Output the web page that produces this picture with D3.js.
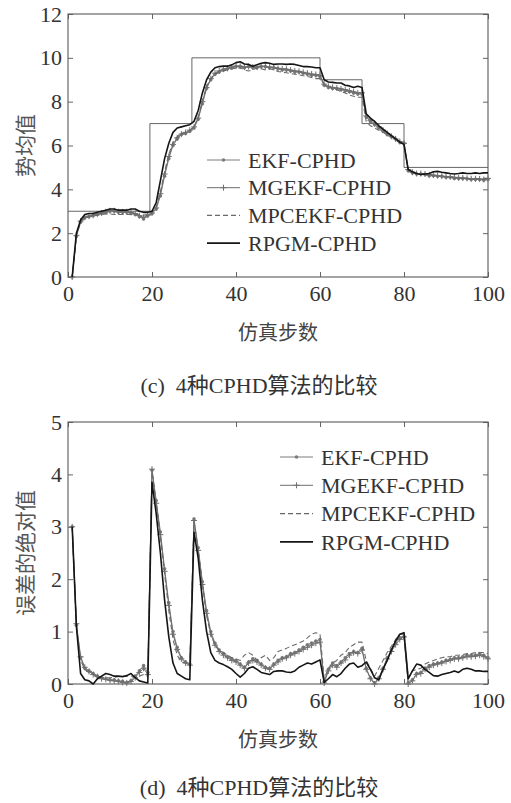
<!DOCTYPE html>
<html>
<head>
<meta charset="utf-8">
<script src="https://cdn.jsdelivr.net/npm/d3@7"></script>
<style>
  body { margin: 0; background: #fff; }
  svg { display: block; }
</style>
</head>
<body>
<div id="chart"></div>
<script>
// simulation step axis
const steps = d3.range(1, 101);

// true cardinality (step breakpoints)
const truthX = [0, 19.5, 19.5, 29.5, 29.5, 60, 60, 70, 70, 80, 80, 100];
const truthY = [3, 3, 7, 7, 10, 10, 9, 9, 7, 7, 5, 5];

const seriesNames = ['EKF-CPHD', 'MGEKF-CPHD', 'MPCEKF-CPHD', 'RPGM-CPHD'];

// (c) mean cardinality estimates
const meanEKF = [
  0, 1.85, 2.5, 2.7, 2.75, 2.8, 2.85, 2.9, 2.95, 3.0,
  3.0, 2.95, 2.95, 2.95, 2.9, 2.85, 2.75, 2.65, 2.8, 2.9,
  3.1, 3.7, 4.6, 5.4, 6.0, 6.3, 6.5, 6.55, 6.65, 6.8,
  7.2, 7.9, 8.6, 9.0, 9.25, 9.35, 9.45, 9.5, 9.55, 9.6,
  9.6, 9.55, 9.6, 9.55, 9.55, 9.6, 9.6, 9.55, 9.55, 9.5,
  9.45, 9.45, 9.4, 9.35, 9.35, 9.3, 9.25, 9.2, 9.2, 9.15,
  8.75, 8.65, 8.6, 8.6, 8.55, 8.5, 8.45, 8.4, 8.35, 8.35,
  7.3, 7.1, 6.95, 6.8, 6.65, 6.5, 6.4, 6.3, 6.15, 6.1,
  4.85, 4.75, 4.7, 4.7, 4.68, 4.62, 4.62, 4.6, 4.6, 4.55,
  4.55, 4.5, 4.5, 4.5, 4.48, 4.45, 4.45, 4.45, 4.42, 4.45
];
const meanMGEKF = [
  0, 1.9, 2.55, 2.72, 2.78, 2.82, 2.88, 2.92, 2.98, 3.02,
  3.02, 2.98, 2.97, 2.98, 2.95, 2.9, 2.8, 2.72, 2.82, 2.92,
  3.15, 3.8, 4.7, 5.5, 6.05, 6.35, 6.52, 6.6, 6.7, 6.85,
  7.25, 8.0, 8.65, 9.05, 9.3, 9.4, 9.48, 9.52, 9.58, 9.62,
  9.62, 9.58, 9.6, 9.58, 9.58, 9.62, 9.6, 9.58, 9.56, 9.52,
  9.5, 9.48, 9.44, 9.4, 9.38, 9.34, 9.3, 9.26, 9.24, 9.2,
  8.8, 8.7, 8.65, 8.62, 8.58, 8.55, 8.5, 8.45, 8.4, 8.4,
  7.35, 7.15, 7.0, 6.85, 6.7, 6.55, 6.42, 6.3, 6.18, 6.1,
  4.9, 4.78, 4.72, 4.72, 4.7, 4.65, 4.65, 4.62, 4.6, 4.58,
  4.57, 4.55, 4.52, 4.52, 4.5, 4.48, 4.48, 4.47, 4.45, 4.5
];
const meanMPCEKF = [
  0, 1.9, 2.5, 2.7, 2.75, 2.78, 2.82, 2.85, 2.88, 2.88,
  2.85, 2.85, 2.85, 2.85, 2.85, 2.85, 2.85, 2.82, 2.85, 2.95,
  3.2, 3.9, 4.8, 5.6, 6.15, 6.4, 6.55, 6.6, 6.7, 6.85,
  7.3, 8.05, 8.7, 9.05, 9.25, 9.35, 9.4, 9.45, 9.5, 9.52,
  9.55, 9.45, 9.4, 9.45, 9.55, 9.5, 9.45, 9.5, 9.45, 9.38,
  9.35, 9.32, 9.28, 9.25, 9.22, 9.18, 9.15, 9.1, 9.05, 9.05,
  8.8, 8.7, 8.6, 8.55, 8.45, 8.4, 8.3, 8.25, 8.2, 8.2,
  7.1, 6.9, 6.8, 6.7, 6.6, 6.5, 6.4, 6.3, 6.2, 6.1,
  4.85, 4.75, 4.7, 4.72, 4.72, 4.68, 4.65, 4.6, 4.58, 4.55,
  4.55, 4.52, 4.5, 4.5, 4.48, 4.48, 4.5, 4.48, 4.5, 4.5
];
const meanRPGM = [
  0, 2.0, 2.6, 2.85, 2.9, 2.9, 2.95, 3.0, 3.05, 3.1,
  3.1, 3.05, 3.05, 3.05, 3.1, 3.1, 3.0, 2.95, 2.95, 3.0,
  3.4, 4.4, 5.4, 6.1, 6.6, 6.8, 6.85, 6.9, 6.95, 7.1,
  7.6, 8.4, 9.0, 9.35, 9.55, 9.6, 9.62, 9.62, 9.68, 9.78,
  9.82, 9.72, 9.7, 9.62, 9.68, 9.75, 9.78, 9.75, 9.7, 9.72,
  9.72, 9.7, 9.72, 9.7, 9.65, 9.6, 9.6, 9.58, 9.55, 9.55,
  9.0, 8.9, 8.88, 8.85, 8.85, 8.75, 8.72, 8.65, 8.7, 8.65,
  7.45, 7.25, 7.1, 6.9, 6.75, 6.6, 6.45, 6.3, 6.15, 6.05,
  4.9, 4.8, 4.72, 4.68, 4.7, 4.72, 4.8, 4.82, 4.78, 4.75,
  4.72, 4.7, 4.72, 4.75, 4.72, 4.72, 4.75, 4.72, 4.75, 4.75
];

// (d) absolute errors
const errEKF = [
  3.0, 1.12, 0.5, 0.3, 0.25, 0.2, 0.15, 0.12, 0.1, 0.08,
  0.08, 0.06, 0.05, 0.03, 0.06, 0.15, 0.25, 0.35, 0.22, 4.08,
  3.5, 2.9, 2.2, 1.55, 1.0, 0.7, 0.5, 0.42, 0.38, 3.15,
  2.6, 1.95, 1.4, 1.0, 0.78, 0.65, 0.58, 0.52, 0.48, 0.45,
  0.38, 0.32, 0.42, 0.48, 0.45, 0.38, 0.32, 0.3, 0.38, 0.45,
  0.5, 0.52, 0.58, 0.6, 0.65, 0.7, 0.75, 0.78, 0.82, 0.85,
  0.05, 0.28, 0.4, 0.35, 0.42, 0.5, 0.58, 0.62, 0.6, 0.68,
  0.3, 0.12, 0.02, 0.12, 0.3, 0.5, 0.65, 0.78, 0.88, 0.9,
  0.02, 0.08, 0.2, 0.22, 0.3, 0.35, 0.38, 0.4, 0.42, 0.45,
  0.47, 0.5, 0.5, 0.52, 0.55, 0.55, 0.55, 0.58, 0.55, 0.5
];
const errMGEKF = [
  3.0, 1.15, 0.52, 0.32, 0.24, 0.18, 0.14, 0.1, 0.09, 0.07,
  0.06, 0.05, 0.03, 0.02, 0.05, 0.12, 0.22, 0.3, 0.18, 4.1,
  3.45, 2.85, 2.15, 1.5, 0.95, 0.66, 0.48, 0.4, 0.36, 3.12,
  2.55, 1.9, 1.35, 0.95, 0.74, 0.62, 0.55, 0.5, 0.45, 0.42,
  0.36, 0.3, 0.4, 0.45, 0.42, 0.36, 0.3, 0.28, 0.36, 0.42,
  0.48, 0.5, 0.55, 0.58, 0.62, 0.66, 0.7, 0.74, 0.78, 0.8,
  0.02, 0.25, 0.36, 0.32, 0.4, 0.46, 0.55, 0.6, 0.58, 0.65,
  0.28, 0.1, 0.0, 0.1, 0.28, 0.48, 0.62, 0.75, 0.85, 0.9,
  0.0, 0.06, 0.18, 0.2, 0.28, 0.32, 0.36, 0.38, 0.4, 0.43,
  0.45, 0.48, 0.48, 0.5, 0.52, 0.52, 0.53, 0.55, 0.52, 0.48
];
const errMPCEKF = [
  3.0, 1.1, 0.45, 0.28, 0.22, 0.18, 0.15, 0.13, 0.12, 0.12,
  0.13, 0.14, 0.15, 0.15, 0.15, 0.15, 0.15, 0.18, 0.15, 4.05,
  3.45, 2.8, 2.1, 1.4, 0.85, 0.55, 0.42, 0.4, 0.35, 3.1,
  2.55, 1.9, 1.3, 0.95, 0.75, 0.65, 0.6, 0.55, 0.5, 0.48,
  0.45, 0.55, 0.6, 0.55, 0.45, 0.5, 0.55, 0.45, 0.5, 0.62,
  0.65, 0.68, 0.72, 0.75, 0.78, 0.82, 0.88, 0.95, 0.98, 0.95,
  0.1, 0.3, 0.4, 0.45, 0.55, 0.6, 0.7, 0.75, 0.8, 0.8,
  0.45, 0.3, 0.15, 0.3, 0.45, 0.6, 0.72, 0.85, 0.95, 0.95,
  0.12, 0.25, 0.28, 0.3, 0.38, 0.42, 0.45, 0.48, 0.5, 0.52,
  0.52, 0.55, 0.55, 0.56, 0.58, 0.58, 0.6, 0.6, 0.6, 0.58
];
const errRPGM = [
  3.0, 1.1, 0.2, 0.08, 0.06, 0.0, 0.1, 0.15, 0.2, 0.18,
  0.15, 0.15, 0.14, 0.16, 0.2, 0.12, 0.06, 0.04, 0.02, 3.85,
  3.25, 2.5, 1.6, 0.9, 0.4, 0.2, 0.15, 0.1, 0.08, 2.9,
  2.4, 1.6, 1.0, 0.6, 0.45, 0.4, 0.37, 0.33, 0.28, 0.2,
  0.13, 0.2, 0.3, 0.33, 0.28, 0.22, 0.2, 0.18, 0.24, 0.25,
  0.25, 0.23, 0.22, 0.25, 0.32, 0.36, 0.4, 0.38, 0.42, 0.46,
  0.03, 0.1, 0.18, 0.14, 0.2, 0.3, 0.38, 0.4, 0.32, 0.35,
  0.42, 0.28, 0.12, 0.08, 0.28, 0.45, 0.65, 0.82, 0.95, 0.98,
  0.1, 0.25, 0.38, 0.36, 0.28, 0.22, 0.16, 0.15, 0.18, 0.2,
  0.22, 0.25, 0.22, 0.28, 0.3, 0.28, 0.25, 0.25, 0.24, 0.24
];

const xTicks = [0, 20, 40, 60, 80, 100];
const yTicksC = [0, 2, 4, 6, 8, 10, 12];
const yTicksD = [0, 1, 2, 3, 4, 5];

const W = 511, H = 803;
const FONT = "'Liberation Serif', 'DejaVu Serif', 'Times New Roman', serif";
const CJK = "'Noto Sans CJK SC', 'Liberation Serif', sans-serif";

const STYLE = {
  'EKF-CPHD':    { color: '#7c7c7c', width: 1,   dash: null,  marker: 'dot' },
  'MGEKF-CPHD':  { color: '#6f6f6f', width: 1,   dash: null,  marker: 'plus' },
  'MPCEKF-CPHD': { color: '#6a6a6a', width: 1.1, dash: '5,3', marker: null },
  'RPGM-CPHD':   { color: '#151515', width: 1.6, dash: null,  marker: null },
};

const svg = d3.select('#chart').append('svg')
  .attr('width', W).attr('height', H);

function drawMarker(sel, type, color) {
  if (type === 'dot') {
    sel.append('circle').attr('r', 1.8).attr('fill', color);
  } else if (type === 'plus') {
    sel.append('path').attr('d', 'M-3,0H3M0,-3V3')
      .attr('stroke', color).attr('stroke-width', 1);
  }
}

function drawPanel(opt) {
  const { top, bottom, yMax, yTicks, series, legend, yTitle, caption, captionGap, truth } = opt;
  const L = 68, R = 488;

  const x = d3.scaleLinear().domain([0, 100]).range([L, R]);
  const y = d3.scaleLinear().domain([0, yMax]).range([bottom, top]);

  const g = svg.append('g');

  // axes, ticks pointing inward on all four sides
  const styleAxis = ax => {
    ax.attr('font-family', null).attr('font-size', null);
    ax.select('.domain').remove();
    ax.selectAll('line').attr('stroke', '#666');
    ax.selectAll('text').attr('font-size', 22).attr('fill', '#333')
      .attr('font-family', FONT);
  };
  g.append('g').attr('transform', `translate(0,${bottom})`)
    .call(d3.axisBottom(x).tickValues(xTicks).tickSize(-5).tickPadding(8))
    .call(styleAxis);
  g.append('g').attr('transform', `translate(0,${top})`)
    .call(d3.axisTop(x).tickValues(xTicks).tickSize(-5).tickFormat(''))
    .call(styleAxis);
  g.append('g').attr('transform', `translate(${L},0)`)
    .call(d3.axisLeft(y).tickValues(yTicks).tickSize(-5).tickPadding(6)
      .tickFormat(d3.format('d')))
    .call(styleAxis);
  g.append('g').attr('transform', `translate(${R},0)`)
    .call(d3.axisRight(y).tickValues(yTicks).tickSize(-5).tickFormat(''))
    .call(styleAxis);

  // frame
  g.append('rect')
    .attr('x', L).attr('y', top)
    .attr('width', R - L).attr('height', bottom - top)
    .attr('fill', 'none').attr('stroke', '#5a5a5a').attr('stroke-width', 1.1);

  const line = d3.line().x(d => x(d[0])).y(d => y(d[1]));

  if (truth) {
    g.append('path')
      .datum(truth[0].map((v, i) => [v, truth[1][i]]))
      .attr('d', line)
      .attr('fill', 'none').attr('stroke', '#555').attr('stroke-width', 0.9);
  }

  seriesNames.forEach((name, si) => {
    const st = STYLE[name];
    const pts = steps.map((s, i) => [s, series[si][i]]);
    g.append('path').datum(pts)
      .attr('d', line)
      .attr('fill', 'none')
      .attr('stroke', st.color)
      .attr('stroke-width', st.width)
      .attr('stroke-dasharray', st.dash)
      .attr('stroke-linejoin', 'round');
    if (st.marker) {
      g.append('g').selectAll('g').data(pts).join('g')
        .attr('transform', d => `translate(${x(d[0])},${y(d[1])})`)
        .each(function () { drawMarker(d3.select(this), st.marker, st.color); });
    }
  });

  // legend
  const leg = g.append('g').attr('transform', `translate(${legend.x},${legend.y})`);
  seriesNames.forEach((name, i) => {
    const st = STYLE[name];
    const row = leg.append('g').attr('transform', `translate(0,${i * legend.dy})`);
    row.append('line')
      .attr('x1', 0).attr('x2', 33).attr('y1', 0).attr('y2', 0)
      .attr('stroke', st.color)
      .attr('stroke-width', st.width)
      .attr('stroke-dasharray', st.dash);
    if (st.marker) {
      drawMarker(row.append('g').attr('transform', 'translate(16.5,0)'), st.marker, st.color);
    }
    row.append('text')
      .attr('x', 41).attr('y', 0).attr('dy', '0.35em')
      .attr('font-family', FONT)
      .attr('font-size', 22).attr('fill', '#333')
      .text(name);
  });

  // axis titles
  g.append('text')
    .attr('transform', `translate(26,${(top + bottom) / 2}) rotate(-90)`)
    .attr('text-anchor', 'middle').attr('dy', '0.35em')
    .attr('font-family', CJK)
    .attr('font-size', 21).attr('fill', '#555')
    .text(yTitle);

  g.append('text')
    .attr('x', 278).attr('y', bottom + 56).attr('dy', '0.35em')
    .attr('text-anchor', 'middle')
    .attr('font-family', CJK)
    .attr('font-size', 20).attr('fill', '#444')
    .text('仿真步数');

  // caption: Latin in serif, Chinese falls back to CJK font
  g.append('text')
    .attr('x', 259).attr('y', bottom + captionGap).attr('dy', '0.35em')
    .attr('text-anchor', 'middle')
    .attr('font-family', FONT + ", 'Noto Sans CJK SC'")
    .attr('font-size', 22).attr('fill', '#333')
    .attr('xml:space', 'preserve')
    .text(caption);
}

drawPanel({
  top: 14, bottom: 277, yMax: 12, yTicks: yTicksC,
  series: [meanEKF, meanMGEKF, meanMPCEKF, meanRPGM],
  truth: [truthX, truthY],
  legend: { x: 207, y: 160, dy: 27.7 },
  yTitle: '势均值',
  caption: '(c)  4种CPHD算法的比较',
  captionGap: 108,
});

drawPanel({
  top: 422, bottom: 684, yMax: 5, yTicks: yTicksD,
  series: [errEKF, errMGEKF, errMPCEKF, errRPGM],
  truth: null,
  legend: { x: 280, y: 457, dy: 28.3 },
  yTitle: '误差的绝对值',
  caption: '(d)  4种CPHD算法的比较',
  captionGap: 103,
});
</script>
</body>
</html>
